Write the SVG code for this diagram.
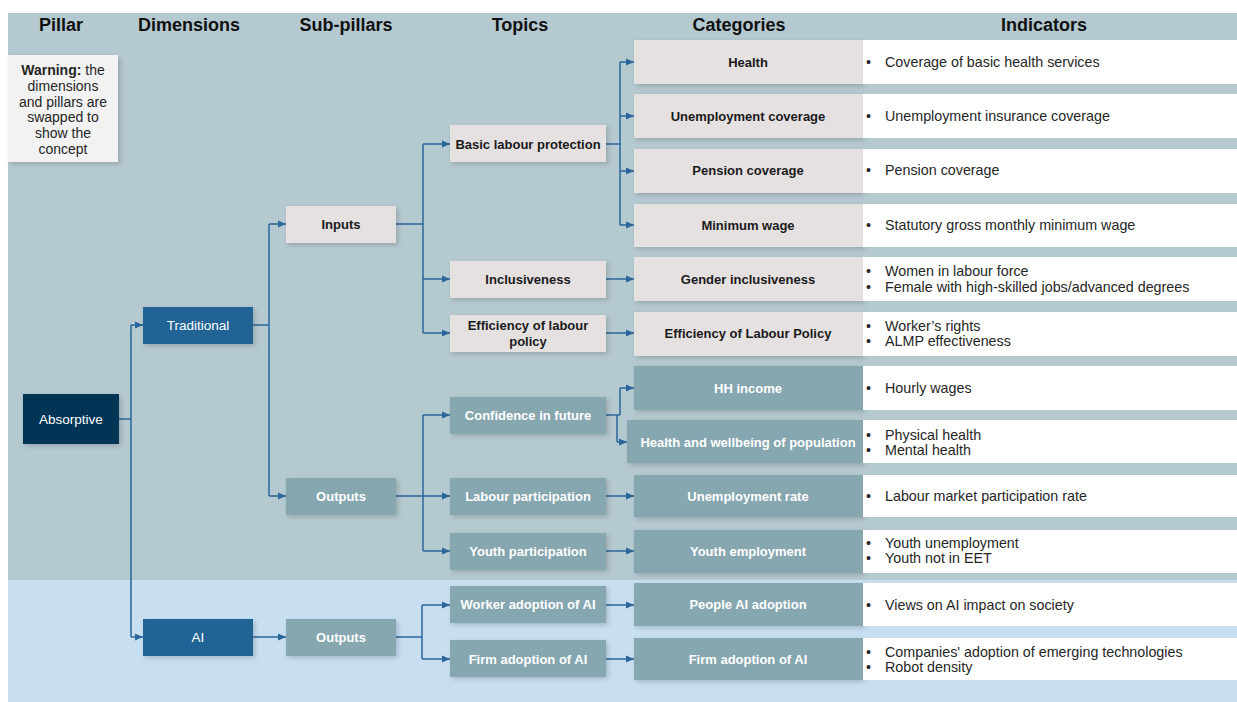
<svg xmlns="http://www.w3.org/2000/svg" width="1237" height="702" viewBox="0 0 1237 702">
<defs>
<filter id="sh" x="-20%" y="-30%" width="140%" height="170%">
<feDropShadow dx="2" dy="2" stdDeviation="2.5" flood-color="#000" flood-opacity="0.18"/>
</filter>
<marker id="ar" markerUnits="userSpaceOnUse" markerWidth="9" markerHeight="8" refX="8" refY="4" orient="auto">
<path d="M0,0.5 L8,4 L0,7.5 Z" fill="#2a669a"/>
</marker>
<style>
text{font-family:"Liberation Sans",Arial,sans-serif;}
.hd{font-size:18px;font-weight:bold;fill:#111;text-anchor:middle;}
.lb{font-size:13px;font-weight:bold;text-anchor:middle;}
.dk{fill:#1a1a1a;}
.wt{fill:#ffffff;}
.dim{font-size:13.5px;fill:#ffffff;text-anchor:middle;}
.ind{font-size:14.3px;fill:#262626;}
.light{fill:#e5e1e1;filter:url(#sh);}
.teal{fill:#86a6b0;filter:url(#sh);}
.blue{fill:#226496;filter:url(#sh);}
.navy{fill:#003657;filter:url(#sh);}
.white{fill:#ffffff;}
.cn path{fill:none;stroke:#2a669a;stroke-width:1.5;}
.warn{font-size:14px;fill:#262626;text-anchor:middle;}
</style>
</defs>

<!-- backgrounds -->
<rect x="8" y="13" width="1229" height="567" fill="#b5c9d0"/>
<rect x="8" y="580" width="1229" height="122" fill="#c8dff2"/>

<!-- headers -->
<g id="headers">
<text class="hd" x="61" y="31">Pillar</text>
<text class="hd" x="189" y="31">Dimensions</text>
<text class="hd" x="346" y="31">Sub-pillars</text>
<text class="hd" x="520" y="31">Topics</text>
<text class="hd" x="739" y="31">Categories</text>
<text class="hd" x="1044" y="31">Indicators</text>
</g>

<!-- warning -->
<g id="warning">
<rect x="8" y="55" width="110" height="107" fill="#f2f2f2" filter="url(#sh)"/>
<text class="warn" x="63" y="75"><tspan font-weight="bold">Warning:</tspan> the</text>
<text class="warn" x="63" y="91">dimensions</text>
<text class="warn" x="63" y="107">and pillars are</text>
<text class="warn" x="63" y="122">swapped to</text>
<text class="warn" x="63" y="138">show the</text>
<text class="warn" x="63" y="154">concept</text>
</g>

<!-- connectors -->
<g id="connectors" class="cn">
<path d="M119,419 H131"/>
<path d="M131,325 V637"/>
<path d="M131,325 H143" marker-end="url(#ar)"/>
<path d="M131,637 H143" marker-end="url(#ar)"/>
<path d="M253,325 H269"/>
<path d="M269,224 V496"/>
<path d="M269,224 H286" marker-end="url(#ar)"/>
<path d="M269,496 H286" marker-end="url(#ar)"/>
<path d="M396,224 H423"/>
<path d="M423,144 V333"/>
<path d="M423,144 H450" marker-end="url(#ar)"/>
<path d="M423,279 H450" marker-end="url(#ar)"/>
<path d="M423,333 H450" marker-end="url(#ar)"/>
<path d="M396,496 H423"/>
<path d="M423,415 V551"/>
<path d="M423,415 H450" marker-end="url(#ar)"/>
<path d="M423,496 H450" marker-end="url(#ar)"/>
<path d="M423,551 H450" marker-end="url(#ar)"/>
<path d="M606,144 H620"/>
<path d="M620,62 V225"/>
<path d="M620,62 H634" marker-end="url(#ar)"/>
<path d="M620,116 H634" marker-end="url(#ar)"/>
<path d="M620,171 H634" marker-end="url(#ar)"/>
<path d="M620,225 H634" marker-end="url(#ar)"/>
<path d="M606,279 H634" marker-end="url(#ar)"/>
<path d="M606,333 H634" marker-end="url(#ar)"/>
<path d="M606,415 H620"/>
<path d="M620,388 V415"/>
<path d="M620,388 H634" marker-end="url(#ar)"/>
<path d="M617,415 V442"/>
<path d="M617,442 H627" marker-end="url(#ar)"/>
<path d="M606,496 H634" marker-end="url(#ar)"/>
<path d="M606,551 H634" marker-end="url(#ar)"/>
<path d="M253,637 H286" marker-end="url(#ar)"/>
<path d="M396,637 H422"/>
<path d="M422,605 V659"/>
<path d="M422,605 H450" marker-end="url(#ar)"/>
<path d="M422,659 H450" marker-end="url(#ar)"/>
<path d="M606,605 H634" marker-end="url(#ar)"/>
<path d="M606,659 H634" marker-end="url(#ar)"/>
</g>

<!-- pillar -->
<g id="absorptive"><rect class="navy" x="23" y="394" width="96" height="50"/><text class="dim" x="71" y="424">Absorptive</text></g>

<!-- dimensions -->
<g id="traditional"><rect class="blue" x="143" y="307" width="110" height="37"/><text class="dim" x="198" y="330">Traditional</text></g>
<g id="ai"><rect class="blue" x="143" y="619" width="110" height="37"/><text class="dim" x="198" y="642">AI</text></g>

<!-- sub-pillars -->
<g id="inputs"><rect class="light" x="286" y="206" width="110" height="37"/><text class="lb dk" x="341" y="229">Inputs</text></g>
<g id="outputs-trad"><rect class="teal" x="286" y="478" width="110" height="37"/><text class="lb wt" x="341" y="501">Outputs</text></g>
<g id="outputs-ai"><rect class="teal" x="286" y="619" width="110" height="37"/><text class="lb wt" x="341" y="642">Outputs</text></g>

<!-- topics -->
<g id="t-basic"><rect class="light" x="450" y="125" width="156" height="37"/><text class="lb dk" x="528" y="149">Basic labour protection</text></g>
<g id="t-incl"><rect class="light" x="450" y="261" width="156" height="37"/><text class="lb dk" x="528" y="284">Inclusiveness</text></g>
<g id="t-eff"><rect class="light" x="450" y="315" width="156" height="37"/><text class="lb dk" x="528" y="330">Efficiency of labour</text><text class="lb dk" x="528" y="346">policy</text></g>
<g id="t-conf"><rect class="teal" x="450" y="397" width="156" height="37"/><text class="lb wt" x="528" y="420">Confidence in future</text></g>
<g id="t-labour"><rect class="teal" x="450" y="478" width="156" height="37"/><text class="lb wt" x="528" y="501">Labour participation</text></g>
<g id="t-youth"><rect class="teal" x="450" y="533" width="156" height="37"/><text class="lb wt" x="528" y="556">Youth participation</text></g>
<g id="t-worker"><rect class="teal" x="450" y="586" width="156" height="37"/><text class="lb wt" x="528" y="609">Worker adoption of AI</text></g>
<g id="t-firm"><rect class="teal" x="450" y="640" width="156" height="37"/><text class="lb wt" x="528" y="664">Firm adoption of AI</text></g>

<!-- categories + indicators -->
<g id="c-health"><rect class="light" x="634" y="40" width="229" height="44"/><rect class="white" x="863" y="40" width="374" height="44"/><text class="lb dk" x="748" y="67">Health</text><text class="ind" x="866" y="67">•</text><text class="ind" x="885" y="67">Coverage of basic health services</text></g>
<g id="c-unemp"><rect class="light" x="634" y="94" width="229" height="44"/><rect class="white" x="863" y="94" width="374" height="44"/><text class="lb dk" x="748" y="121">Unemployment coverage</text><text class="ind" x="866" y="121">•</text><text class="ind" x="885" y="121">Unemployment insurance coverage</text></g>
<g id="c-pension"><rect class="light" x="634" y="149" width="229" height="44"/><rect class="white" x="863" y="149" width="374" height="44"/><text class="lb dk" x="748" y="175">Pension coverage</text><text class="ind" x="866" y="175">•</text><text class="ind" x="885" y="175">Pension coverage</text></g>
<g id="c-minwage"><rect class="light" x="634" y="204" width="229" height="43"/><rect class="white" x="863" y="204" width="374" height="43"/><text class="lb dk" x="748" y="230">Minimum wage</text><text class="ind" x="866" y="230">•</text><text class="ind" x="885" y="230">Statutory gross monthly minimum wage</text></g>
<g id="c-gender"><rect class="light" x="634" y="257" width="229" height="44"/><rect class="white" x="863" y="257" width="374" height="44"/><text class="lb dk" x="748" y="284">Gender inclusiveness</text><text class="ind" x="866" y="276">•</text><text class="ind" x="885" y="276">Women in labour force</text><text class="ind" x="866" y="292">•</text><text class="ind" x="885" y="292">Female with high-skilled jobs/advanced degrees</text></g>
<g id="c-eff"><rect class="light" x="634" y="312" width="229" height="44"/><rect class="white" x="863" y="312" width="374" height="44"/><text class="lb dk" x="748" y="338">Efficiency of Labour Policy</text><text class="ind" x="866" y="331">•</text><text class="ind" x="885" y="331">Worker’s rights</text><text class="ind" x="866" y="346">•</text><text class="ind" x="885" y="346">ALMP effectiveness</text></g>
<g id="c-hh"><rect class="teal" x="634" y="366" width="229" height="44"/><rect class="white" x="863" y="366" width="374" height="44"/><text class="lb wt" x="748" y="393">HH income</text><text class="ind" x="866" y="393">•</text><text class="ind" x="885" y="393">Hourly wages</text></g>
<g id="c-wellbeing"><rect class="teal" x="627" y="420" width="236" height="43"/><rect class="white" x="863" y="420" width="374" height="43"/><text class="lb wt" x="748" y="447">Health and wellbeing of population</text><text class="ind" x="866" y="440">•</text><text class="ind" x="885" y="440">Physical health</text><text class="ind" x="866" y="455">•</text><text class="ind" x="885" y="455">Mental health</text></g>
<g id="c-unrate"><rect class="teal" x="634" y="475" width="229" height="42"/><rect class="white" x="863" y="475" width="374" height="42"/><text class="lb wt" x="748" y="501">Unemployment rate</text><text class="ind" x="866" y="501">•</text><text class="ind" x="885" y="501">Labour market participation rate</text></g>
<g id="c-youth"><rect class="teal" x="634" y="530" width="229" height="43"/><rect class="white" x="863" y="530" width="374" height="43"/><text class="lb wt" x="748" y="556">Youth employment</text><text class="ind" x="866" y="548">•</text><text class="ind" x="885" y="548">Youth unemployment</text><text class="ind" x="866" y="563">•</text><text class="ind" x="885" y="563">Youth not in EET</text></g>
<g id="c-people"><rect class="teal" x="634" y="583" width="229" height="43"/><rect class="white" x="863" y="583" width="374" height="43"/><text class="lb wt" x="748" y="609">People AI adoption</text><text class="ind" x="866" y="610">•</text><text class="ind" x="885" y="610">Views on AI impact on society</text></g>
<g id="c-firm"><rect class="teal" x="634" y="638" width="229" height="42"/><rect class="white" x="863" y="638" width="374" height="42"/><text class="lb wt" x="748" y="664">Firm adoption of AI</text><text class="ind" x="866" y="657">•</text><text class="ind" x="885" y="657">Companies' adoption of emerging technologies</text><text class="ind" x="866" y="672">•</text><text class="ind" x="885" y="672">Robot density</text></g>
</svg>
